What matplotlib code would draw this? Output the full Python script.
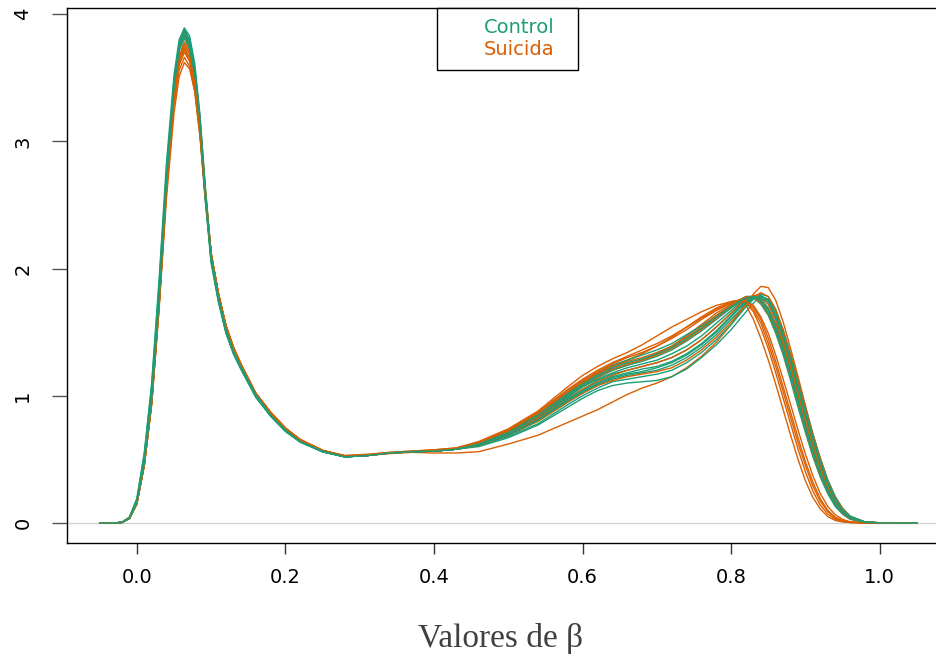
import matplotlib
matplotlib.use("Agg")
import matplotlib.pyplot as plt
from matplotlib.lines import Line2D

# ---------------- data ----------------
x_grid = [-0.05, -0.03, -0.02, -0.01, 0.0, 0.01, 0.02, 0.03, 0.04, 0.05,
          0.057, 0.064, 0.071, 0.078, 0.085, 0.092, 0.10, 0.11, 0.12, 0.13,
          0.14, 0.16, 0.18, 0.20, 0.22, 0.25, 0.28, 0.31, 0.34, 0.37, 0.40, 0.43,
          0.46, 0.50, 0.54, 0.58,
          0.60, 0.62, 0.64, 0.66, 0.68, 0.70, 0.72, 0.74, 0.76, 0.78, 0.80,
          0.81, 0.82, 0.83, 0.84, 0.85, 0.86, 0.87, 0.88, 0.89, 0.90,
          0.91, 0.92, 0.93, 0.94, 0.95, 0.96, 0.98, 1.00, 1.02, 1.05]

ctrl_1 = [0.0, 0.0, 0.006, 0.045, 0.19, 0.55, 1.10, 1.92, 2.84, 3.52, 3.80, 3.89, 3.79, 3.55, 3.13, 2.57,
          2.06, 1.74, 1.50, 1.33, 1.21, 0.99, 0.84, 0.72, 0.635, 0.56, 0.52, 0.53, 0.55, 0.56, 0.565, 0.58,
          0.60, 0.67, 0.77, 0.91,
          0.98, 1.04, 1.08, 1.10, 1.11, 1.12, 1.15, 1.21, 1.30, 1.40, 1.52,
          1.59, 1.66, 1.73, 1.78, 1.76, 1.66, 1.50, 1.31, 1.11, 0.90,
          0.69, 0.50, 0.33, 0.20, 0.11, 0.05, 0.008, 0.001, 0.0, 0.0]
ctrl_2 = [0.0, 0.0, 0.005, 0.04, 0.17, 0.50, 1.02, 1.82, 2.76, 3.47, 3.78, 3.88, 3.79, 3.56, 3.15, 2.60,
          2.08, 1.76, 1.51, 1.34, 1.22, 1.00, 0.845, 0.725, 0.64, 0.56, 0.52, 0.53, 0.55, 0.56, 0.565, 0.58,
          0.61, 0.69, 0.80, 0.95,
          1.02, 1.08, 1.13, 1.16, 1.18, 1.20, 1.24, 1.30, 1.38, 1.48, 1.60,
          1.66, 1.72, 1.76, 1.77, 1.72, 1.60, 1.43, 1.24, 1.04, 0.83,
          0.63, 0.45, 0.29, 0.17, 0.09, 0.04, 0.006, 0.001, 0.0, 0.0]
ctrl_3 = [0.0, 0.0, 0.004, 0.035, 0.15, 0.46, 0.95, 1.72, 2.66, 3.40, 3.74, 3.86, 3.80, 3.58, 3.18, 2.64,
          2.11, 1.78, 1.53, 1.35, 1.23, 1.01, 0.85, 0.73, 0.64, 0.565, 0.52, 0.53, 0.55, 0.56, 0.565, 0.58,
          0.62, 0.70, 0.82, 0.98,
          1.05, 1.12, 1.17, 1.20, 1.23, 1.26, 1.30, 1.36, 1.44, 1.54, 1.65,
          1.70, 1.75, 1.77, 1.75, 1.68, 1.55, 1.38, 1.19, 0.98, 0.77,
          0.58, 0.40, 0.26, 0.15, 0.08, 0.035, 0.005, 0.001, 0.0, 0.0]
ctrl_4 = [0.0, 0.0, 0.005, 0.04, 0.17, 0.50, 1.01, 1.80, 2.74, 3.44, 3.75, 3.85, 3.76, 3.53, 3.12, 2.58,
          2.07, 1.75, 1.50, 1.34, 1.22, 1.00, 0.845, 0.725, 0.64, 0.56, 0.52, 0.53, 0.55, 0.56, 0.565, 0.58,
          0.62, 0.71, 0.84, 1.00,
          1.08, 1.15, 1.20, 1.24, 1.27, 1.31, 1.36, 1.43, 1.51, 1.60, 1.69,
          1.73, 1.77, 1.77, 1.72, 1.63, 1.49, 1.32, 1.12, 0.91, 0.71,
          0.52, 0.36, 0.23, 0.13, 0.07, 0.03, 0.004, 0.0, 0.0, 0.0]
ctrl_5 = [0.0, 0.0, 0.006, 0.045, 0.19, 0.54, 1.08, 1.88, 2.78, 3.45, 3.74, 3.83, 3.73, 3.49, 3.08, 2.54,
          2.04, 1.73, 1.49, 1.33, 1.21, 0.99, 0.84, 0.72, 0.635, 0.56, 0.52, 0.53, 0.55, 0.56, 0.565, 0.58,
          0.63, 0.72, 0.86, 1.02,
          1.11, 1.18, 1.24, 1.28, 1.32, 1.36, 1.41, 1.48, 1.55, 1.63, 1.71,
          1.75, 1.78, 1.78, 1.74, 1.65, 1.52, 1.35, 1.16, 0.95, 0.74,
          0.55, 0.38, 0.24, 0.14, 0.075, 0.035, 0.005, 0.001, 0.0, 0.0]
ctrl_6 = [0.0, 0.0, 0.004, 0.035, 0.15, 0.46, 0.96, 1.74, 2.68, 3.43, 3.77, 3.89, 3.83, 3.61, 3.21, 2.66,
          2.12, 1.78, 1.53, 1.35, 1.23, 1.01, 0.85, 0.73, 0.64, 0.565, 0.525, 0.53, 0.55, 0.56, 0.565, 0.58,
          0.61, 0.68, 0.78, 0.93,
          1.00, 1.06, 1.11, 1.13, 1.15, 1.17, 1.20, 1.26, 1.34, 1.44, 1.56,
          1.63, 1.70, 1.76, 1.80, 1.78, 1.68, 1.52, 1.33, 1.12, 0.91,
          0.70, 0.51, 0.34, 0.21, 0.115, 0.055, 0.009, 0.001, 0.0, 0.0]
ctrl_7 = [0.0, 0.0, 0.005, 0.04, 0.17, 0.50, 1.00, 1.78, 2.71, 3.41, 3.71, 3.81, 3.73, 3.51, 3.11, 2.57,
          2.07, 1.75, 1.50, 1.34, 1.22, 1.00, 0.845, 0.725, 0.64, 0.56, 0.52, 0.53, 0.55, 0.56, 0.565, 0.58,
          0.62, 0.70, 0.83, 0.99,
          1.07, 1.13, 1.18, 1.22, 1.25, 1.28, 1.33, 1.39, 1.47, 1.57, 1.67,
          1.72, 1.76, 1.78, 1.76, 1.69, 1.57, 1.41, 1.22, 1.01, 0.80,
          0.60, 0.43, 0.28, 0.16, 0.085, 0.04, 0.006, 0.001, 0.0, 0.0]
ctrl_8 = [0.0, 0.0, 0.005, 0.04, 0.17, 0.51, 1.04, 1.84, 2.77, 3.47, 3.77, 3.87, 3.78, 3.55, 3.14, 2.59,
          2.07, 1.75, 1.50, 1.34, 1.22, 1.00, 0.845, 0.725, 0.64, 0.56, 0.52, 0.53, 0.55, 0.56, 0.565, 0.58,
          0.61, 0.69, 0.81, 0.96,
          1.03, 1.09, 1.14, 1.17, 1.19, 1.22, 1.26, 1.32, 1.40, 1.50, 1.62,
          1.68, 1.73, 1.77, 1.79, 1.75, 1.64, 1.48, 1.29, 1.08, 0.87,
          0.67, 0.48, 0.32, 0.19, 0.10, 0.05, 0.007, 0.001, 0.0, 0.0]
ctrl_9 = [0.0, 0.0, 0.005, 0.04, 0.17, 0.50, 1.01, 1.80, 2.73, 3.43, 3.74, 3.84, 3.76, 3.54, 3.14, 2.60,
          2.08, 1.76, 1.51, 1.34, 1.22, 1.00, 0.845, 0.725, 0.64, 0.56, 0.52, 0.53, 0.55, 0.56, 0.565, 0.58,
          0.61, 0.70, 0.81, 0.97,
          1.04, 1.10, 1.15, 1.18, 1.21, 1.23, 1.27, 1.33, 1.41, 1.51, 1.63,
          1.69, 1.74, 1.77, 1.78, 1.74, 1.62, 1.46, 1.27, 1.06, 0.85,
          0.65, 0.47, 0.31, 0.18, 0.095, 0.045, 0.007, 0.001, 0.0, 0.0]
ctrl_10 = [0.0, 0.0, 0.004, 0.035, 0.16, 0.47, 0.97, 1.76, 2.70, 3.43, 3.76, 3.87, 3.80, 3.57, 3.17, 2.62,
           2.10, 1.77, 1.52, 1.35, 1.23, 1.01, 0.85, 0.73, 0.64, 0.565, 0.52, 0.53, 0.55, 0.56, 0.565, 0.58,
           0.62, 0.71, 0.85, 1.01,
           1.09, 1.16, 1.22, 1.26, 1.29, 1.33, 1.38, 1.45, 1.53, 1.62, 1.70,
           1.74, 1.77, 1.78, 1.75, 1.67, 1.54, 1.37, 1.18, 0.97, 0.76,
           0.57, 0.40, 0.26, 0.15, 0.08, 0.035, 0.005, 0.001, 0.0, 0.0]

suic_1 = [0.0, 0.0, 0.004, 0.035, 0.15, 0.45, 0.93, 1.68, 2.56, 3.22, 3.51, 3.62, 3.57, 3.39, 3.05, 2.58,
          2.12, 1.80, 1.55, 1.38, 1.25, 1.02, 0.87, 0.745, 0.655, 0.57, 0.525, 0.53, 0.545, 0.555, 0.55, 0.55,
          0.56, 0.62, 0.69, 0.79,
          0.84, 0.89, 0.95, 1.01, 1.06, 1.10, 1.15, 1.22, 1.31, 1.42, 1.56,
          1.64, 1.72, 1.80, 1.86, 1.85, 1.75, 1.58, 1.37, 1.15, 0.92,
          0.70, 0.50, 0.33, 0.20, 0.11, 0.05, 0.008, 0.001, 0.0, 0.0]
suic_2 = [0.0, 0.0, 0.005, 0.04, 0.16, 0.47, 0.96, 1.72, 2.61, 3.28, 3.56, 3.66, 3.59, 3.39, 3.03, 2.55,
          2.10, 1.79, 1.55, 1.38, 1.25, 1.02, 0.87, 0.745, 0.655, 0.57, 0.53, 0.54, 0.555, 0.565, 0.575, 0.59,
          0.64, 0.74, 0.88, 1.07,
          1.16, 1.23, 1.29, 1.34, 1.40, 1.47, 1.54, 1.60, 1.66, 1.71, 1.74,
          1.75, 1.71, 1.60, 1.45, 1.28, 1.09, 0.89, 0.69, 0.50, 0.33,
          0.20, 0.11, 0.05, 0.02, 0.008, 0.003, 0.0, 0.0, 0.0, 0.0]
suic_3 = [0.0, 0.0, 0.004, 0.035, 0.15, 0.45, 0.94, 1.70, 2.62, 3.31, 3.60, 3.70, 3.63, 3.42, 3.06, 2.57,
          2.11, 1.80, 1.55, 1.38, 1.25, 1.02, 0.87, 0.745, 0.655, 0.57, 0.525, 0.535, 0.55, 0.56, 0.57, 0.585,
          0.63, 0.72, 0.85, 1.02,
          1.10, 1.17, 1.23, 1.28, 1.33, 1.39, 1.46, 1.54, 1.62, 1.69, 1.74,
          1.75, 1.73, 1.66, 1.53, 1.37, 1.18, 0.98, 0.78, 0.58, 0.40,
          0.25, 0.14, 0.07, 0.03, 0.012, 0.004, 0.0, 0.0, 0.0, 0.0]
suic_4 = [0.0, 0.0, 0.005, 0.04, 0.16, 0.47, 0.97, 1.75, 2.67, 3.35, 3.64, 3.74, 3.66, 3.45, 3.08, 2.58,
          2.11, 1.79, 1.54, 1.37, 1.24, 1.01, 0.86, 0.74, 0.65, 0.57, 0.525, 0.535, 0.55, 0.56, 0.57, 0.585,
          0.62, 0.71, 0.83, 0.99,
          1.07, 1.14, 1.20, 1.24, 1.28, 1.33, 1.39, 1.47, 1.56, 1.65, 1.72,
          1.75, 1.75, 1.70, 1.60, 1.45, 1.27, 1.07, 0.87, 0.67, 0.48,
          0.32, 0.19, 0.10, 0.045, 0.018, 0.006, 0.001, 0.0, 0.0, 0.0]
suic_5 = [0.0, 0.0, 0.004, 0.035, 0.15, 0.45, 0.94, 1.71, 2.65, 3.36, 3.67, 3.78, 3.71, 3.50, 3.12, 2.61,
          2.12, 1.80, 1.55, 1.38, 1.25, 1.02, 0.87, 0.745, 0.655, 0.57, 0.525, 0.53, 0.55, 0.56, 0.565, 0.58,
          0.62, 0.71, 0.84, 1.01,
          1.09, 1.16, 1.21, 1.25, 1.28, 1.32, 1.37, 1.44, 1.52, 1.61, 1.70,
          1.74, 1.77, 1.77, 1.73, 1.64, 1.51, 1.34, 1.15, 0.94, 0.73,
          0.54, 0.37, 0.24, 0.14, 0.07, 0.03, 0.005, 0.0, 0.0, 0.0]
suic_6 = [0.0, 0.0, 0.005, 0.04, 0.16, 0.48, 0.98, 1.76, 2.70, 3.41, 3.72, 3.82, 3.74, 3.52, 3.13, 2.61,
          2.11, 1.79, 1.54, 1.37, 1.24, 1.01, 0.86, 0.74, 0.65, 0.57, 0.53, 0.535, 0.555, 0.565, 0.575, 0.59,
          0.63, 0.73, 0.87, 1.05,
          1.13, 1.20, 1.26, 1.31, 1.36, 1.41, 1.47, 1.54, 1.61, 1.68, 1.73,
          1.75, 1.75, 1.71, 1.62, 1.49, 1.32, 1.13, 0.93, 0.73, 0.54,
          0.37, 0.23, 0.13, 0.065, 0.028, 0.01, 0.001, 0.0, 0.0, 0.0]
suic_7 = [0.0, 0.0, 0.004, 0.035, 0.15, 0.46, 0.95, 1.73, 2.66, 3.35, 3.66, 3.76, 3.69, 3.48, 3.10, 2.60,
          2.12, 1.80, 1.55, 1.38, 1.25, 1.02, 0.87, 0.745, 0.655, 0.57, 0.52, 0.53, 0.55, 0.56, 0.565, 0.58,
          0.61, 0.69, 0.80, 0.95,
          1.02, 1.08, 1.12, 1.15, 1.17, 1.19, 1.22, 1.28, 1.36, 1.46, 1.58,
          1.65, 1.72, 1.78, 1.81, 1.78, 1.67, 1.51, 1.32, 1.11, 0.90,
          0.69, 0.50, 0.33, 0.20, 0.11, 0.05, 0.008, 0.001, 0.0, 0.0]
suic_8 = [0.0, 0.0, 0.005, 0.04, 0.16, 0.48, 0.99, 1.78, 2.72, 3.43, 3.75, 3.85, 3.77, 3.55, 3.16, 2.63,
          2.12, 1.79, 1.54, 1.37, 1.24, 1.01, 0.86, 0.74, 0.65, 0.57, 0.525, 0.53, 0.55, 0.56, 0.57, 0.585,
          0.62, 0.72, 0.86, 1.03,
          1.11, 1.18, 1.23, 1.27, 1.30, 1.34, 1.39, 1.46, 1.54, 1.63, 1.71,
          1.75, 1.78, 1.78, 1.75, 1.68, 1.56, 1.40, 1.21, 1.00, 0.79,
          0.59, 0.42, 0.27, 0.16, 0.085, 0.04, 0.006, 0.001, 0.0, 0.0]
suic_9 = [0.0, 0.0, 0.005, 0.04, 0.16, 0.47, 0.96, 1.74, 2.66, 3.34, 3.62, 3.72, 3.65, 3.45, 3.08, 2.59,
          2.11, 1.80, 1.55, 1.38, 1.25, 1.02, 0.87, 0.745, 0.655, 0.57, 0.525, 0.53, 0.55, 0.56, 0.565, 0.58,
          0.61, 0.70, 0.82, 0.97,
          1.05, 1.11, 1.16, 1.20, 1.23, 1.26, 1.30, 1.36, 1.44, 1.54, 1.65,
          1.71, 1.76, 1.79, 1.78, 1.72, 1.60, 1.44, 1.25, 1.04, 0.83,
          0.63, 0.45, 0.29, 0.17, 0.09, 0.04, 0.006, 0.001, 0.0, 0.0]
suic_10 = [0.0, 0.0, 0.004, 0.035, 0.15, 0.46, 0.95, 1.72, 2.64, 3.33, 3.63, 3.73, 3.66, 3.45, 3.08, 2.59,
           2.12, 1.80, 1.55, 1.38, 1.25, 1.02, 0.87, 0.745, 0.655, 0.57, 0.525, 0.535, 0.55, 0.56, 0.57, 0.585,
           0.63, 0.73, 0.87, 1.04,
           1.12, 1.19, 1.25, 1.30, 1.34, 1.39, 1.45, 1.52, 1.60, 1.67, 1.73,
           1.75, 1.74, 1.68, 1.57, 1.41, 1.23, 1.03, 0.83, 0.63, 0.45,
           0.29, 0.17, 0.09, 0.04, 0.015, 0.005, 0.001, 0.0, 0.0, 0.0]

control_curves = [ctrl_1, ctrl_2, ctrl_3, ctrl_4, ctrl_5, ctrl_6, ctrl_7, ctrl_8, ctrl_9, ctrl_10]
suicida_curves = [suic_1, suic_2, suic_3, suic_4, suic_5, suic_6, suic_7, suic_8, suic_9, suic_10]

group_labels = ["Control", "Suicida"]
x_ticks = [0.0, 0.2, 0.4, 0.6, 0.8, 1.0]
x_tick_labels = ["0.0", "0.2", "0.4", "0.6", "0.8", "1.0"]
y_ticks = [0, 1, 2, 3, 4]
y_tick_labels = ["0", "1", "2", "3", "4"]
x_label = "Valores de β"

for idx, c in enumerate(control_curves + suicida_curves):
    if len(c) != len(x_grid):
        raise ValueError(f"curve {idx} has {len(c)} values, grid has {len(x_grid)}")

# ---------------- styling ----------------
col_control = "#1B9E77"
col_suicida = "#D95F02"

plt.rcParams["font.family"] = ["DejaVu Sans"]

W, H = 936, 656
fig = plt.figure(figsize=(W / 100, H / 100), dpi=100)
ax = fig.add_axes([67 / W, 1 - 542.8 / H, 882.6 / W, (542.8 - 7.8) / H])
ax.set_xlim(-0.094, 1.094)
ax.set_ylim(-0.156, 4.05)

ax.axhline(0, color="#d2d2d2", lw=1.0, zorder=1)

for s_curve, c_curve in zip(suicida_curves, control_curves):
    ax.plot(x_grid, s_curve, color=col_suicida, lw=1.0, zorder=2)
    ax.plot(x_grid, c_curve, color=col_control, lw=1.0, zorder=2)

for sp in ax.spines.values():
    sp.set_color("black")
    sp.set_linewidth(1.0)

ax.set_xticks(x_ticks)
ax.set_xticklabels(x_tick_labels)
ax.set_yticks(y_ticks)
ax.set_yticklabels(y_tick_labels, rotation=90, va="center")
ax.tick_params(axis="x", direction="out", length=8, width=1, color="#333333",
               labelsize=14, pad=10)
ax.tick_params(axis="y", direction="out", length=11, width=1, color="#555555",
               labelsize=14, pad=14)

handles = [Line2D([], [], linestyle="none", marker=None) for _ in group_labels]
leg = ax.legend(handles, group_labels, loc="upper left", mode="expand",
                bbox_to_anchor=((437 - 67) / 882.6, 0.0, 141 / 882.6, 1.0),
                labelcolor=[col_control, col_suicida], fontsize=14,
                frameon=True, fancybox=False, framealpha=1, edgecolor="black",
                borderaxespad=0, handlelength=1.37, handletextpad=0.5,
                borderpad=0.55, labelspacing=0.15)
leg.get_frame().set_linewidth(1.0)

fig.text(500 / W, 1 - 647 / H, x_label, ha="center", va="baseline",
         fontsize=24, color="#404040", family=["Liberation Serif", "DejaVu Serif"])

fig.savefig("out.png", dpi=100)
